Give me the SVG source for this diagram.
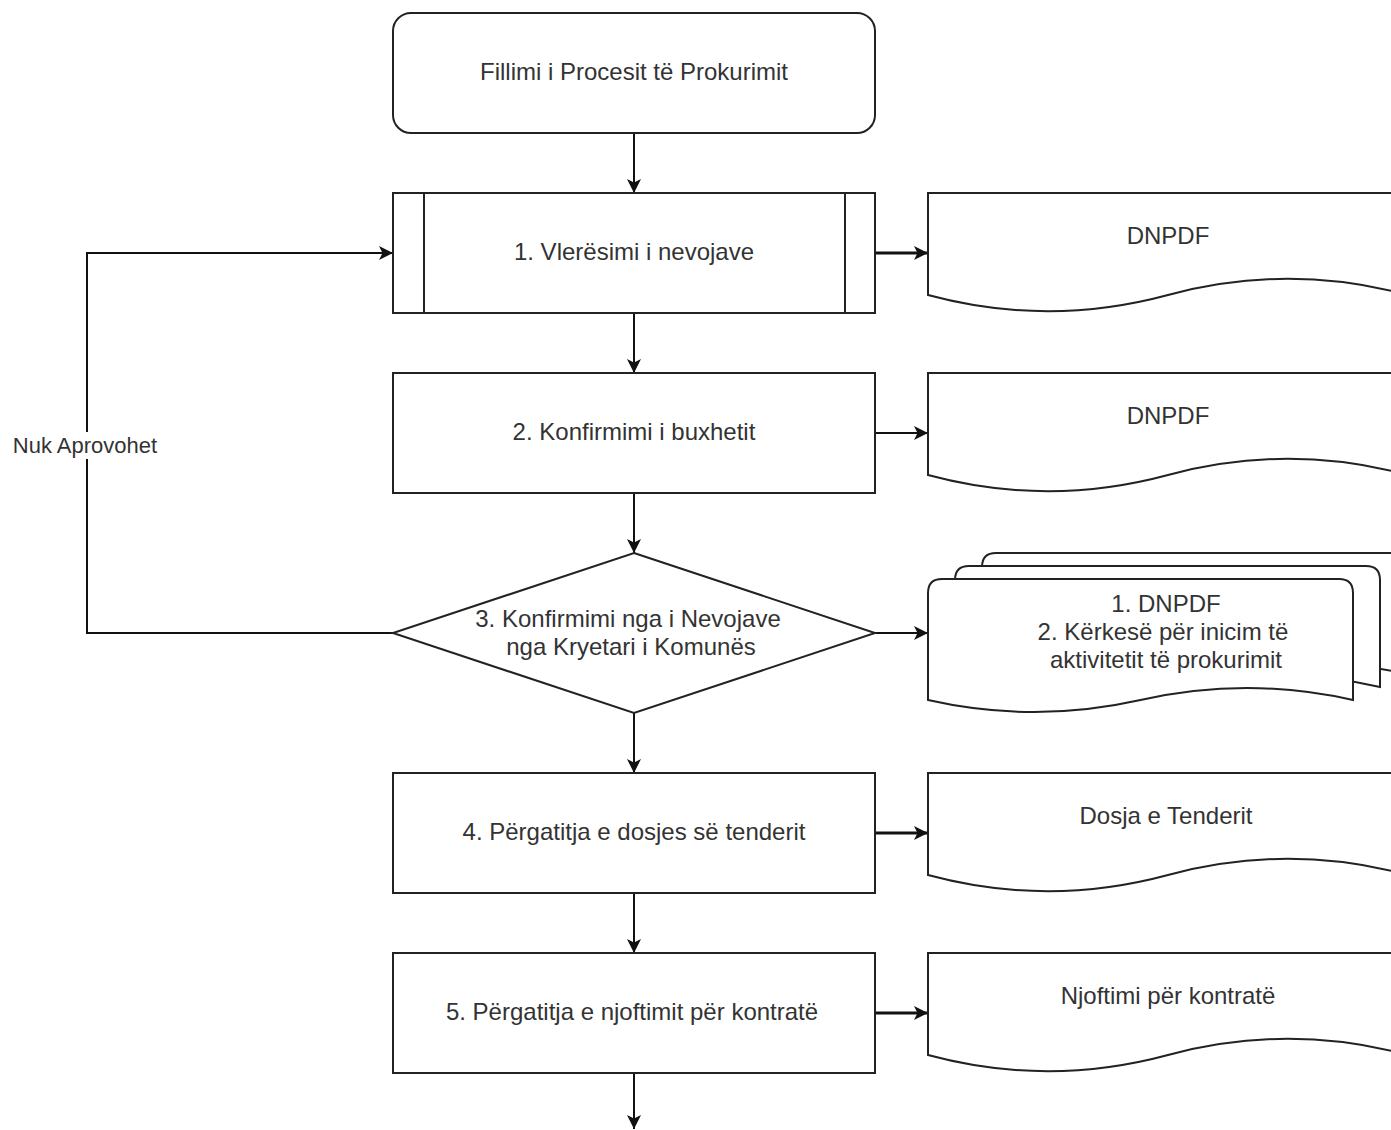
<svg xmlns="http://www.w3.org/2000/svg" width="1391" height="1130" viewBox="0 0 1391 1130">
  <style>
    .shape { fill: #ffffff; stroke: #222222; stroke-width: 2; }
    .bar { fill: none; stroke: #222222; stroke-width: 2; }
    .edge { fill: none; stroke: #111111; stroke-width: 2; }
    .edge-bold { fill: none; stroke: #111111; stroke-width: 3; }
    .label { font-family: "Liberation Sans", Arial, sans-serif; font-size: 24px; fill: #333333; text-anchor: middle; }
    .edge-label { font-family: "Liberation Sans", Arial, sans-serif; font-size: 22px; fill: #333333; text-anchor: middle; }
  </style>
  <defs>
    <marker id="arrow" markerUnits="userSpaceOnUse" markerWidth="16" markerHeight="16" viewBox="0 -8 16 16" refX="14" refY="0" orient="auto">
      <path d="M0,-7 L14,0 L0,7 L3.5,0 Z" fill="#111111"/>
    </marker>
  </defs>

  <rect width="1391" height="1130" fill="#ffffff"/>

  <!-- connectors -->
  <g id="connectors">
    <line class="edge" x1="634" y1="133" x2="634" y2="193" marker-end="url(#arrow)"/>
    <line class="edge-bold" x1="875" y1="253" x2="928" y2="253" marker-end="url(#arrow)"/>
    <line class="edge" x1="634" y1="313" x2="634" y2="373" marker-end="url(#arrow)"/>
    <line class="edge" x1="875" y1="433" x2="928" y2="433" marker-end="url(#arrow)"/>
    <line class="edge" x1="634" y1="493" x2="634" y2="553" marker-end="url(#arrow)"/>
    <line class="edge" x1="875" y1="633" x2="928" y2="633" marker-end="url(#arrow)"/>
    <line class="edge" x1="634" y1="713" x2="634" y2="773" marker-end="url(#arrow)"/>
    <polyline class="edge" points="393,633 87,633 87,253 393,253" marker-end="url(#arrow)"/>
    <line class="edge-bold" x1="875" y1="833" x2="928" y2="833" marker-end="url(#arrow)"/>
    <line class="edge" x1="634" y1="893" x2="634" y2="953" marker-end="url(#arrow)"/>
    <line class="edge-bold" x1="875" y1="1013" x2="928" y2="1013" marker-end="url(#arrow)"/>
    <line class="edge" x1="634" y1="1073" x2="634" y2="1129" marker-end="url(#arrow)"/>
    <rect x="10" y="432" width="152" height="27" fill="#ffffff"/>
    <text class="edge-label" x="85" y="453">Nuk Aprovohet</text>
  </g>

  <!-- start -->
  <g id="start">
    <rect class="shape" x="393" y="13" width="482" height="120" rx="18" ry="18"/>
    <text class="label" x="634" y="80">Fillimi i Procesit të Prokurimit</text>
  </g>

  <!-- step 1: predefined process -->
  <g id="step1">
    <rect class="shape" x="393" y="193" width="482" height="120"/>
    <line class="bar" x1="424" y1="193" x2="424" y2="313"/>
    <line class="bar" x1="845" y1="193" x2="845" y2="313"/>
    <text class="label" x="634" y="260">1. Vlerësimi i nevojave</text>
  </g>

  <g id="doc1">
    <path class="shape" d="M928,193 L1408,193 L1408,295 Q1288,262.6 1168,295 Q1048,327.4 928,295 Z"/>
    <text class="label" x="1168" y="244">DNPDF</text>
  </g>

  <!-- step 2 -->
  <g id="step2">
    <rect class="shape" x="393" y="373" width="482" height="120"/>
    <text class="label" x="634" y="440">2. Konfirmimi i buxhetit</text>
  </g>

  <g id="doc2">
    <path class="shape" d="M928,373 L1408,373 L1408,475 Q1288,442.6 1168,475 Q1048,507.4 928,475 Z"/>
    <text class="label" x="1168" y="424">DNPDF</text>
  </g>

  <!-- step 3: decision -->
  <g id="step3">
    <polygon class="shape" points="634,553 875,633 634,713 393,633"/>
    <text class="label" x="628" y="627">3. Konfirmimi nga i Nevojave</text>
    <text class="label" x="631" y="655">nga Kryetari i Komunës</text>
  </g>

  <!-- multiple documents -->
  <g id="docs3">
    <path class="shape" d="M982,674 L982,567 Q982,553 996,553 L1393,553 Q1407,553 1407,567 L1407,674 Q1300.75,650 1194.5,674 Q1088.25,698 982,674 Z"/>
    <path class="shape" d="M955,687 L955,580 Q955,566 969,566 L1366,566 Q1380,566 1380,580 L1380,687 Q1273.75,663 1167.5,687 Q1061.25,711 955,687 Z"/>
    <path class="shape" d="M928,700 L928,593 Q928,579 942,579 L1339,579 Q1353,579 1353,593 L1353,700 Q1246.75,676 1140.5,700 Q1034.25,724 928,700 Z"/>
    <text class="label" x="1166" y="612">1. DNPDF</text>
    <text class="label" x="1163" y="640">2. Kërkesë për inicim të</text>
    <text class="label" x="1166" y="668">aktivitetit të prokurimit</text>
  </g>

  <!-- step 4 -->
  <g id="step4">
    <rect class="shape" x="393" y="773" width="482" height="120"/>
    <text class="label" x="634" y="840">4. Përgatitja e dosjes së tenderit</text>
  </g>

  <g id="doc4">
    <path class="shape" d="M928,773 L1408,773 L1408,875 Q1288,842.6 1168,875 Q1048,907.4 928,875 Z"/>
    <text class="label" x="1166" y="824">Dosja e Tenderit</text>
  </g>

  <!-- step 5 -->
  <g id="step5">
    <rect class="shape" x="393" y="953" width="482" height="120"/>
    <text class="label" x="632" y="1020">5. Përgatitja e njoftimit për kontratë</text>
  </g>

  <g id="doc5">
    <path class="shape" d="M928,953 L1408,953 L1408,1055 Q1288,1022.6 1168,1055 Q1048,1087.4 928,1055 Z"/>
    <text class="label" x="1168" y="1004">Njoftimi për kontratë</text>
  </g>
</svg>
